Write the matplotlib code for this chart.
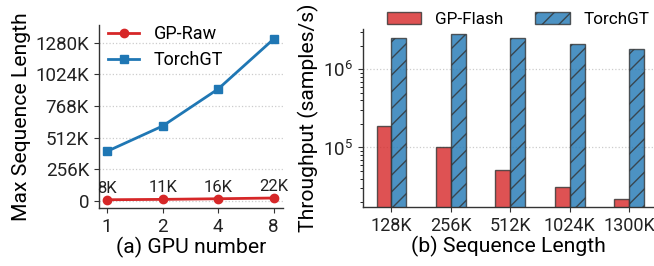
import matplotlib
matplotlib.use("Agg")
import matplotlib.pyplot as plt
import numpy as np
from matplotlib.ticker import LogLocator, NullFormatter

plt.rcParams['font.family'] = ['Roboto', 'DejaVu Sans']
plt.rcParams['font.size'] = 13

# ---- data (a) ----
gpu_labels = ['1', '2', '4', '8']
gp_raw = [8, 11, 16, 22]            # K
gp_raw_labels = ['8K', '11K', '16K', '22K']
torchgt_len = [400, 605, 905, 1310]  # K
ytick_vals = [0, 256, 512, 768, 1024, 1280]
ytick_labels = ['0', '256K', '512K', '768K', '1024K', '1280K']

# ---- data (b) ----
seq_labels = ['128K', '256K', '512K', '1024K', '1300K']
gp_flash_tp = [1.87e5, 1.0e5, 5.1e4, 3.08e4, 2.2e4]
torchgt_tp = [2.49e6, 2.83e6, 2.56e6, 2.13e6, 1.80e6]

red = '#d62728'
blue = '#1f77b4'
spine_c = '#333333'
LABEL_FS = 15.2
TICK_FS = 13.5

fig = plt.figure(figsize=(6.54, 2.66), dpi=100)
ax1 = fig.add_axes([0.151, 0.218, 0.282, 0.688])
ax2 = fig.add_axes([0.555, 0.222, 0.445, 0.668])

for ax in (ax1, ax2):
    ax.spines['top'].set_visible(False)
    ax.spines['right'].set_visible(False)
    for s in ('left', 'bottom'):
        ax.spines[s].set_color(spine_c)
        ax.spines[s].set_linewidth(1.0)
    ax.tick_params(colors=spine_c, labelcolor='#222222', labelsize=TICK_FS)

# (a)
x = np.arange(len(gpu_labels))
ax1.plot(x, gp_raw, color=red, marker='o', markersize=6, linewidth=2, label='GP-Raw')
ax1.plot(x, torchgt_len, color=blue, marker='s', markersize=6, linewidth=2, label='TorchGT')
for xi, yi, lab in zip(x, gp_raw, gp_raw_labels):
    ax1.annotate(lab, (xi, yi), xytext=(0, 3), textcoords='offset points',
                 ha='center', va='bottom', fontsize=12, color='#222222')
ax1.set_xticks(x)
ax1.set_xticklabels(gpu_labels)
ax1.set_yticks(ytick_vals)
ax1.set_yticklabels(ytick_labels)
ax1.set_xlim(-0.15, 3.17)
ax1.set_ylim(-59, 1423)
ax1.yaxis.grid(True, linestyle=':', color='#cccccc', linewidth=0.9)
ax1.set_axisbelow(True)
ax1.set_ylabel('Max Sequence Length', fontsize=LABEL_FS, labelpad=3)
ax1.set_xlabel('(a) GPU number', fontsize=LABEL_FS, labelpad=1)
ax1.legend(loc='upper left', frameon=False, fontsize=13, handlelength=1.75,
           bbox_to_anchor=(-0.01, 1.06), borderaxespad=0.2, labelspacing=0.45,
           handletextpad=0.8)

# (b)
xb = np.arange(len(seq_labels))
w = 0.25
ax2.bar(xb - w / 2, gp_flash_tp, width=w, color=red, alpha=0.8,
        edgecolor=spine_c, linewidth=1.0, label='GP-Flash')
ax2.bar(xb + w / 2, torchgt_tp, width=w, color=blue, alpha=0.8,
        edgecolor=spine_c, linewidth=1.0, hatch='//', label='TorchGT')
ax2.set_yscale('log')
ax2.set_ylim(1.73e4, 3.27e6)
ax2.set_xlim(-0.48, 4.42)
ax2.set_xticks(xb)
ax2.set_xticklabels(seq_labels)
ax2.tick_params(axis='x', labelsize=13)
ax2.yaxis.set_major_locator(LogLocator(base=10, numticks=10))
ax2.yaxis.set_minor_locator(LogLocator(base=10, subs=np.arange(2, 10), numticks=10))
ax2.yaxis.set_minor_formatter(NullFormatter())
ax2.yaxis.grid(True, which='major', linestyle=':', color='#cccccc', linewidth=0.9)
ax2.set_axisbelow(True)
ax2.set_ylabel('Throughput (samples/s)', fontsize=LABEL_FS, labelpad=3)
ax2.set_xlabel('(b) Sequence Length', fontsize=LABEL_FS, labelpad=1)
fig.legend(*ax2.get_legend_handles_labels(), loc='upper left', ncol=2, frameon=False,
           fontsize=12.3, bbox_to_anchor=(0.568, 1.012), handlelength=2.0,
           handleheight=0.7, columnspacing=1.9, handletextpad=0.8)

fig.savefig('out.png', dpi=100)
